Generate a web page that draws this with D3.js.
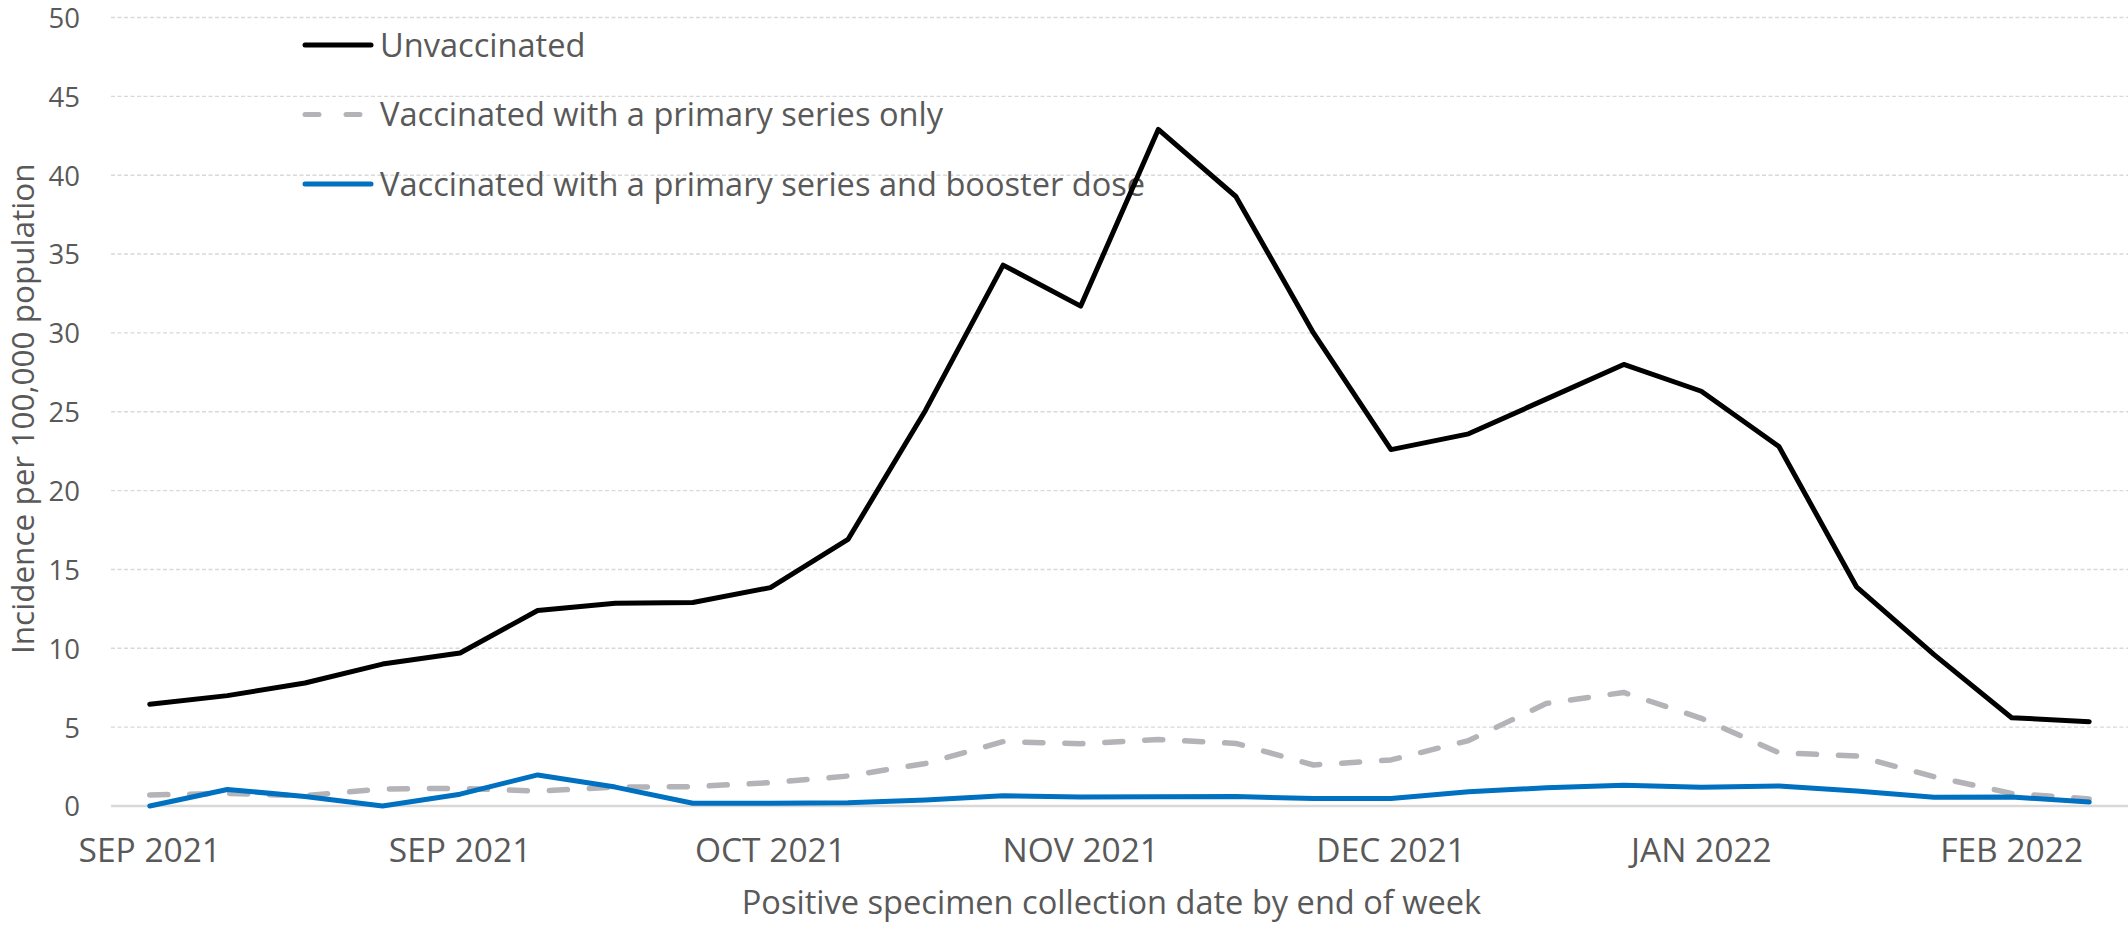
<!DOCTYPE html>
<html>
<head>
<meta charset="utf-8">
<script src="https://cdn.jsdelivr.net/npm/d3@7"></script>
<style>
  html, body { margin: 0; padding: 0; background: #fff; }
  svg { display: block; }
  text { font-family: "Open Sans", "Noto Sans", sans-serif; fill: #595959; }
</style>
</head>
<body>
<svg id="chart" width="2128" height="926"></svg>
<script>
// ---- data ----
const weeks = d3.range(1, 27).map(String); // 26 weekly categories
const tickLabels = ["SEP 2021", "SEP 2021", "OCT 2021", "NOV 2021", "DEC 2021", "JAN 2022", "FEB 2022"];
const tickEvery = 4;

const seriesNames = [
  "Unvaccinated",
  "Vaccinated with a primary series only",
  "Vaccinated with a primary series and booster dose"
];
const unvaccinated = [6.45, 7.0, 7.8, 9.0, 9.7, 12.4, 12.85, 12.9, 13.85, 16.9, 25.1, 34.3, 31.7,
  42.9, 38.65, 30.0, 22.6, 23.6, 25.8, 28.0, 26.3, 22.8, 13.9, 9.6, 5.6, 5.35];
const primaryOnly = [0.7, 0.8, 0.65, 1.08, 1.12, 0.95, 1.2, 1.23, 1.48, 1.9, 2.7, 4.08, 3.95,
  4.22, 3.97, 2.6, 2.92, 4.15, 6.5, 7.2, 5.56, 3.38, 3.17, 1.86, 0.8, 0.45];
const booster = [0, 1.05, 0.6, 0, 0.75, 1.97, 1.2, 0.17, 0.18, 0.2, 0.38, 0.65, 0.57,
  0.58, 0.6, 0.47, 0.47, 0.9, 1.16, 1.31, 1.19, 1.27, 0.95, 0.55, 0.57, 0.25];
const yTicks = [0, 5, 10, 15, 20, 25, 30, 35, 40, 45, 50];

// ---- layout ----
const svg = d3.select("#chart");
const plot = { left: 111, right: 2128, top: 17.5, bottom: 806 };

const x = d3.scaleBand().domain(weeks).range([plot.left, plot.right]);
const xc = d => x(d) + x.bandwidth() / 2;
const y = d3.scaleLinear().domain([0, 50]).range([plot.bottom, plot.top]);

// gridlines
const grid = svg.append("g");
grid.selectAll("line.g").data(yTicks.filter(t => t > 0)).join("line")
  .attr("x1", plot.left).attr("x2", plot.right)
  .attr("y1", d => y(d)).attr("y2", d => y(d))
  .attr("stroke", "#D9D9D9").attr("stroke-width", 1.4)
  .attr("stroke-dasharray", "4 2.5");
grid.append("line")
  .attr("x1", plot.left).attr("x2", plot.right)
  .attr("y1", y(0)).attr("y2", y(0))
  .attr("stroke", "#D9D9D9").attr("stroke-width", 2.5);

// y axis labels
const yAxis = d3.axisLeft(y).tickValues(yTicks).tickSize(0).tickPadding(0);
const gy = svg.append("g").attr("transform", "translate(80,0)").call(yAxis);
gy.select(".domain").remove();
gy.selectAll("text").attr("font-size", 27.5).style("font-family", "'Open Sans', sans-serif")
  .attr("fill", "#595959").attr("dy", "0.36em");

// x axis labels
const xAxis = d3.axisBottom(x)
  .tickValues(weeks.filter((d, i) => i % tickEvery === 0))
  .tickFormat((d, i) => tickLabels[i])
  .tickSize(0).tickPadding(0);
const gx = svg.append("g").attr("transform", "translate(0,838)").call(xAxis);
gx.select(".domain").remove();
gx.selectAll("text").attr("font-size", 33.5).style("font-family", "'Open Sans', sans-serif")
  .attr("fill", "#595959").attr("dy", "0.71em").attr("y", 0);

// axis titles
svg.append("text")
  .attr("x", (plot.left + plot.right) / 2 - 8).attr("y", 914)
  .attr("text-anchor", "middle").attr("font-size", 32.6)
  .text("Positive specimen collection date by end of week");
svg.append("text")
  .attr("transform", `translate(34,${(plot.top + plot.bottom) / 2 - 3}) rotate(-90)`)
  .attr("text-anchor", "middle").attr("font-size", 31.5)
  .text("Incidence per 100,000 population");

// legend
const legendStyles = [
  { color: "#000000", dash: null },
  { color: "#B4B4B8", dash: "14 27" },
  { color: "#0070C0", dash: null }
];
const legend = svg.append("g");
seriesNames.forEach((name, i) => {
  const ly = 45 + i * 69.5;
  legend.append("line")
    .attr("x1", 305).attr("x2", 371).attr("y1", ly).attr("y2", ly)
    .attr("stroke", legendStyles[i].color).attr("stroke-width", 5)
    .attr("stroke-linecap", "round")
    .attr("stroke-dasharray", legendStyles[i].dash);
  legend.append("text")
    .attr("x", 380).attr("y", ly).attr("dy", "0.36em")
    .attr("font-size", 32.6).text(name);
});

// lines
const line = d3.line().x((d, i) => xc(weeks[i])).y(d => y(d)).curve(d3.curveLinear);
const data = [unvaccinated, primaryOnly, booster];
const lineStyles = [
  { color: "#000000", dash: null, w: 5 },
  { color: "#B4B4B8", dash: "18 22", w: 5.5 },
  { color: "#0070C0", dash: null, w: 5 }
];
data.forEach((vals, i) => {
  svg.append("path").datum(vals)
    .attr("d", line)
    .attr("fill", "none")
    .attr("stroke", lineStyles[i].color)
    .attr("stroke-width", lineStyles[i].w)
    .attr("stroke-linejoin", "round")
    .attr("stroke-linecap", "round")
    .attr("stroke-dasharray", lineStyles[i].dash);
});
</script>
</body>
</html>
